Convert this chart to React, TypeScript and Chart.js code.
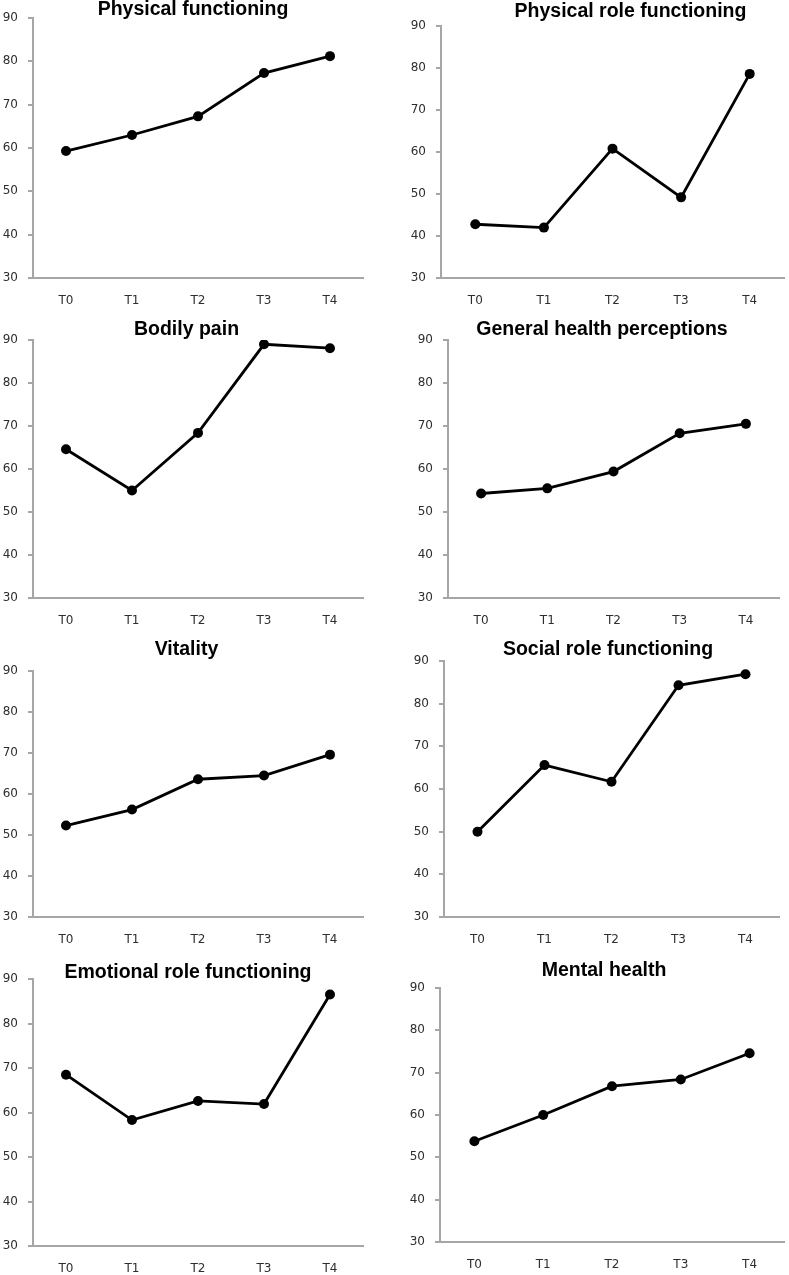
import React, { useEffect, useRef } from 'react';
import { Chart, registerables } from 'chart.js';

Chart.register(...registerables);

// ---------- data ----------
const timePoints = ['T0', 'T1', 'T2', 'T3', 'T4'];
const yTickValues = [30, 40, 50, 60, 70, 80, 90];

const physicalFunctioning = [59.3, 63.0, 67.3, 77.3, 81.2];
const physicalRoleFunctioning = [42.8, 42.0, 60.8, 49.2, 78.6];
const bodilyPain = [64.6, 55.0, 68.4, 89.0, 88.1];
const generalHealthPerceptions = [54.3, 55.5, 59.4, 68.3, 70.5];
const vitality = [52.3, 56.2, 63.6, 64.5, 69.6];
const socialRoleFunctioning = [50.0, 65.6, 61.7, 84.3, 86.9];
const emotionalRoleFunctioning = [68.5, 58.3, 62.6, 61.9, 86.5];
const mentalHealth = [53.8, 60.0, 66.8, 68.4, 74.6];

const panelTitles = [
  'Physical functioning',
  'Physical role functioning',
  'Bodily pain',
  'General health perceptions',
  'Vitality',
  'Social role functioning',
  'Emotional role functioning',
  'Mental health',
];

const panelSeries = [
  physicalFunctioning,
  physicalRoleFunctioning,
  bodilyPain,
  generalHealthPerceptions,
  vitality,
  socialRoleFunctioning,
  emotionalRoleFunctioning,
  mentalHealth,
];

// ---------- layout (page pixel geometry of each panel) ----------
const PANEL_LAYOUT = [
  { left: 0, top: 0, width: 394, height: 310, axisX: 33, right: 363, plotTop: 18, plotBottom: 278, titleX: 193, titleY: 9.5 },
  { left: 394, top: 0, width: 395, height: 310, axisX: 441, right: 787, plotTop: 26, plotBottom: 278, titleX: 630.5, titleY: 11.5 },
  { left: 0, top: 310, width: 394, height: 320, axisX: 33, right: 363, plotTop: 340, plotBottom: 598, titleX: 186.5, titleY: 329.5 },
  { left: 394, top: 310, width: 395, height: 320, axisX: 448, right: 779, plotTop: 340, plotBottom: 598, titleX: 602, titleY: 329.5 },
  { left: 0, top: 630, width: 394, height: 320, axisX: 33, right: 363, plotTop: 671, plotBottom: 917, titleX: 186.5, titleY: 649.5 },
  { left: 394, top: 630, width: 395, height: 320, axisX: 444, right: 779, plotTop: 661, plotBottom: 917, titleX: 608, titleY: 649.5 },
  { left: 0, top: 950, width: 394, height: 325, axisX: 33, right: 363, plotTop: 979, plotBottom: 1246, titleX: 188, titleY: 973 },
  { left: 394, top: 950, width: 395, height: 325, axisX: 440, right: 786, plotTop: 988, plotBottom: 1242, titleX: 604, titleY: 971 },
];

const X_AXIS_HEIGHT = 28;
const AXIS_COLOR = '#a6a6a6';
const TICK_COLOR = '#2e2e2e';
const TICK_FONT = { family: '"DejaVu Sans", Verdana, sans-serif', size: 12 };

const panelTitlePlugin = {
  id: 'panelTitle',
  afterDraw(chart: any, _args: any, opts: any) {
    const ctx = chart.ctx;
    ctx.save();
    ctx.font = 'bold 19.5px "Liberation Sans", Arial, sans-serif';
    ctx.fillStyle = '#000000';
    ctx.textAlign = 'center';
    ctx.textBaseline = 'middle';
    ctx.fillText(opts.text, opts.x, opts.y);
    ctx.restore();
  },
};

function Panel({ index }: { index: number }) {
  const ref = useRef<HTMLCanvasElement | null>(null);
  const g = PANEL_LAYOUT[index];

  useEffect(() => {
    if (!ref.current) return;
    const yAxisWidth = g.axisX - g.left;
    const chart = new Chart(ref.current, {
      type: 'line',
      data: {
        labels: timePoints,
        datasets: [
          {
            label: panelTitles[index],
            data: panelSeries[index],
            borderColor: '#000000',
            backgroundColor: '#000000',
            borderWidth: 2.8,
            pointRadius: 5,
            pointHoverRadius: 5,
            pointBackgroundColor: '#000000',
            pointBorderColor: '#000000',
            pointBorderWidth: 0,
            tension: 0,
            fill: false,
          },
        ],
      },
      options: {
        responsive: false,
        animation: false,
        events: [],
        layout: {
          padding: {
            left: 0,
            top: g.plotTop - g.top,
            right: g.left + g.width - g.right,
            bottom: g.top + g.height - (g.plotBottom + X_AXIS_HEIGHT),
          },
        },
        plugins: {
          legend: { display: false },
          title: { display: false },
          tooltip: { enabled: false },
          panelTitle: { text: panelTitles[index], x: g.titleX - g.left, y: g.titleY - g.top },
        } as any,
        scales: {
          x: {
            type: 'category',
            offset: true,
            grid: { display: false, drawTicks: false, tickLength: 0 },
            border: { display: true, color: AXIS_COLOR, width: 2 },
            ticks: { color: TICK_COLOR, font: TICK_FONT, padding: 16, maxRotation: 0, autoSkip: false },
            afterFit: (scale: any) => {
              scale.height = X_AXIS_HEIGHT;
            },
          },
          y: {
            min: yTickValues[0],
            max: yTickValues[yTickValues.length - 1],
            grid: { display: true, drawOnChartArea: false, drawTicks: true, tickLength: 5, color: AXIS_COLOR, lineWidth: 2 },
            border: { display: true, color: AXIS_COLOR, width: 2 },
            ticks: {
              stepSize: yTickValues[1] - yTickValues[0],
              color: TICK_COLOR,
              font: TICK_FONT,
              padding: 10,
            },
            afterFit: (scale: any) => {
              scale.width = yAxisWidth;
            },
          },
        },
      },
      plugins: [panelTitlePlugin],
    } as any);
    return () => chart.destroy();
  }, [index]);

  return (
    <canvas
      ref={ref}
      width={g.width}
      height={g.height}
      style={{ position: 'absolute', left: g.left, top: g.top, width: g.width, height: g.height }}
    />
  );
}

export default function App() {
  return (
    <div
      style={{
        position: 'absolute',
        left: 0,
        top: 0,
        width: 789,
        height: 1275,
        overflow: 'hidden',
        background: '#ffffff',
      }}
    >
      {panelTitles.map((_, i) => (
        <Panel key={i} index={i} />
      ))}
    </div>
  );
}
